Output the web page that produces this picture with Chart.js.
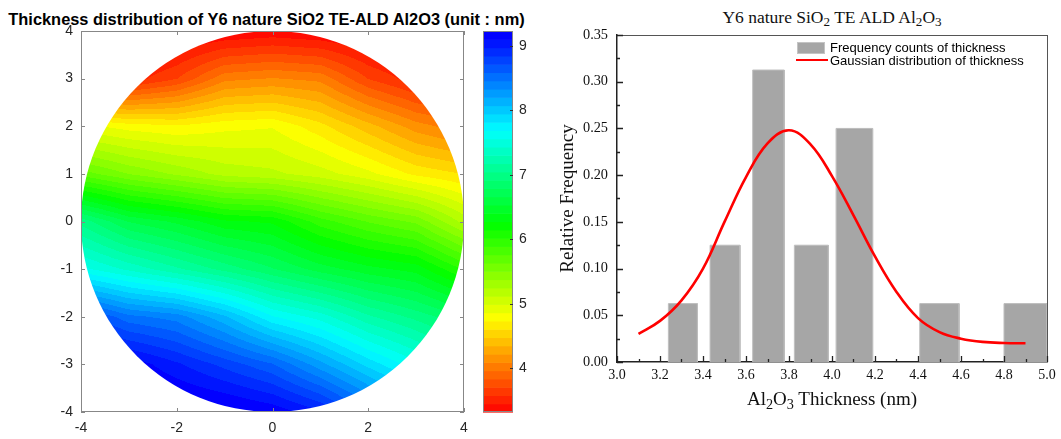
<!DOCTYPE html>
<html lang="en">
<head>
<meta charset="UTF-8" />
<title>Y6 nature SiO2 TE-ALD Al2O3 thickness</title>
<script src="https://cdn.jsdelivr.net/npm/chart.js"></script>
<style>
  body { margin: 0; background: #fff; width: 1061px; height: 439px; overflow: hidden; position: relative; }
  .box { position: absolute; }
  .txt { position: absolute; white-space: nowrap; }
  sub { font-size: 0.75em; vertical-align: -0.25em; line-height: 0; }
</style>
</head>
<body>
<div class="txt" style="left:0;width:533px;text-align:center;top:11px;font:bold 16.4px/1 'Liberation Sans',Arial,sans-serif;color:#000;">Thickness distribution of Y6 nature SiO2 TE-ALD Al2O3 (unit : nm)</div>
<div class="box" style="left:0;top:0;width:545px;height:439px;"><canvas id="mapChart"></canvas></div>
<div class="box" style="left:470px;top:0;width:80px;height:439px;"><canvas id="barChart"></canvas></div>

<div class="txt" style="left:617px;width:430px;text-align:center;top:9px;font:17.5px/1 'Liberation Serif','Times New Roman',serif;color:#111;">Y6 nature SiO<sub>2</sub> TE ALD Al<sub>2</sub>O<sub>3</sub></div>
<div class="box" style="left:545px;top:0;width:516px;height:439px;"><canvas id="histChart"></canvas></div>
<div class="txt" style="left:617px;width:430px;text-align:center;top:389px;font:19px/1 'Liberation Serif','Times New Roman',serif;color:#111;">Al<sub>2</sub>O<sub>3</sub> Thickness (nm)</div>

<div class="box" style="left:797px;top:42px;width:28px;height:12px;background:#a6a6a6;border:1px solid #c4c4c4;box-sizing:border-box;"></div>
<div class="txt" style="left:830px;top:41px;font:13px/1 'Liberation Sans',Arial,sans-serif;color:#000;">Frequency counts of thickness</div>
<div class="box" style="left:796px;top:59px;width:32px;height:2px;background:#ff0000;"></div>
<div class="txt" style="left:830px;top:54px;font:13px/1 'Liberation Sans',Arial,sans-serif;color:#000;">Gaussian distribution of thickness</div>

<script>
// ---- wafer map: thickness (nm) read on a 1 mm grid, rows y = 4 ... -4, cols x = -4 ... 4
const gridX = [-4, -3, -2, -1, 0, 1, 2, 3, 4];
const gridY = [4, 3, 2, 1, 0, -1, -2, -3, -4];
const thicknessGrid = [
  [3.20, 3.20, 3.25, 3.30, 3.35, 3.30, 3.25, 3.20, 3.20],
  [3.60, 3.50, 3.70, 4.05, 4.10, 4.05, 3.70, 3.50, 3.40],
  [4.90, 4.80, 4.75, 4.82, 4.85, 4.65, 4.40, 4.15, 4.00],
  [5.70, 5.50, 5.35, 5.20, 5.15, 5.05, 4.90, 4.70, 4.60],
  [7.00, 6.65, 6.50, 6.30, 6.25, 5.95, 5.75, 5.60, 5.20],
  [7.60, 7.40, 7.20, 7.00, 6.80, 6.60, 6.45, 6.35, 6.00],
  [8.80, 8.50, 8.40, 8.10, 7.70, 7.50, 7.20, 7.00, 6.80],
  [9.30, 9.20, 9.00, 8.80, 8.60, 8.25, 7.90, 7.60, 7.20],
  [9.40, 9.40, 9.35, 9.30, 9.20, 9.00, 8.60, 8.20, 8.00]
];
const waferRadius = 4;
const mapTicksX = [-4, -2, 0, 2, 4];
const mapTicksY = [-4, -3, -2, -1, 0, 1, 2, 3, 4];

// colour bar
const cbMin = 3.32, cbMax = 9.23, cbBands = 46;
const cbTicks = [4, 5, 6, 7, 8, 9];

// ---- histogram
const binStart = [3.239, 3.433, 3.631, 3.825, 4.019, 4.408, 4.800];
const binEnd   = [3.374, 3.572, 3.778, 3.983, 4.189, 4.591, 5.000];
const relFreq  = [0.0625, 0.125, 0.3125, 0.125, 0.25, 0.0625, 0.0625];

const gaussX = [3.1, 3.2, 3.3, 3.4, 3.5, 3.6, 3.7, 3.8, 3.9, 4.0, 4.1, 4.2, 4.3, 4.4, 4.5, 4.6, 4.7, 4.8, 4.9];
const gaussY = [0.030, 0.044, 0.066, 0.100, 0.150, 0.198, 0.234, 0.248, 0.233, 0.199, 0.157, 0.113, 0.075, 0.047, 0.032, 0.025, 0.0215, 0.0203, 0.020];

const SANS = "'Liberation Sans', Arial, sans-serif";
const SERIF = "'Liberation Serif', 'Times New Roman', serif";

function hueRGB(hdeg) {
  const h = hdeg / 60, f = 1 - Math.abs(h % 2 - 1);
  let c;
  if (h < 1) c = [1, f, 0];
  else if (h < 2) c = [f, 1, 0];
  else if (h < 3) c = [0, 1, f];
  else if (h < 4) c = [0, f, 1];
  else c = [f, 0, 1];
  return c.map(v => Math.round(v * 255));
}
function bandIndex(v) {
  const k = Math.floor((v - cbMin) / (cbMax - cbMin) * cbBands);
  return Math.min(Math.max(k, 0), cbBands - 1);
}
function bandColor(k) {
  return hueRGB((k + 0.5) / cbBands * 243);
}

function thicknessAt(vx, vy) {
  const fx = Math.min(Math.max((vx - gridX[0]) / (gridX[1] - gridX[0]), 0), gridX.length - 1.0001);
  const fy = Math.min(Math.max((vy - gridY[0]) / (gridY[1] - gridY[0]), 0), gridY.length - 1.0001);
  const i = Math.floor(fx), j = Math.floor(fy), tx = fx - i, ty = fy - j;
  const g = thicknessGrid;
  return (g[j][i] * (1 - tx) + g[j][i + 1] * tx) * (1 - ty) + (g[j + 1][i] * (1 - tx) + g[j + 1][i + 1] * tx) * ty;
}

const waferPlugin = {
  id: 'wafer',
  beforeDatasetsDraw(chart) {
    const { ctx, chartArea: a, scales: { x, y } } = chart;
    const w = Math.round(a.right - a.left), h = Math.round(a.bottom - a.top);
    const off = document.createElement('canvas');
    off.width = w; off.height = h;
    const octx = off.getContext('2d');
    const img = octx.createImageData(w, h);
    for (let j = 0; j < h; j++) {
      const vy = y.getValueForPixel(a.top + j + 0.5);
      for (let i = 0; i < w; i++) {
        const vx = x.getValueForPixel(a.left + i + 0.5);
        if (vx * vx + vy * vy > 17.5) continue;
        const [r, g, b] = bandColor(bandIndex(thicknessAt(vx, vy)));
        const p = (j * w + i) * 4;
        img.data[p] = r; img.data[p + 1] = g; img.data[p + 2] = b; img.data[p + 3] = 255;
      }
    }
    octx.putImageData(img, 0, 0);
    const cx = x.getPixelForValue(0), cy = y.getPixelForValue(0);
    const rx = x.getPixelForValue(waferRadius) - cx, ry = cy - y.getPixelForValue(waferRadius);
    ctx.save();
    ctx.beginPath();
    ctx.ellipse(cx, cy, rx, ry, 0, 0, Math.PI * 2);
    ctx.clip();
    ctx.drawImage(off, a.left, a.top);
    ctx.restore();
  },
  afterDraw(chart) {
    const { ctx, chartArea: a, scales: { x, y } } = chart;
    ctx.save();
    ctx.strokeStyle = '#878787';
    ctx.lineWidth = 1;
    ctx.strokeRect(a.left + 0.5, a.top + 0.5, a.right - a.left - 1, a.bottom - a.top - 1);
    ctx.beginPath();
    mapTicksX.forEach(v => {
      const px = Math.round(x.getPixelForValue(v)) + 0.5;
      ctx.moveTo(px, a.bottom); ctx.lineTo(px, a.bottom - 4);
      ctx.moveTo(px, a.top); ctx.lineTo(px, a.top + 4);
    });
    mapTicksY.forEach(v => {
      const py = Math.round(y.getPixelForValue(v)) + 0.5;
      ctx.moveTo(a.left, py); ctx.lineTo(a.left + 4, py);
      ctx.moveTo(a.right, py); ctx.lineTo(a.right - 4, py);
    });
    ctx.stroke();
    ctx.restore();
  }
};

new Chart(document.getElementById('mapChart'), {
  type: 'scatter',
  data: { datasets: [] },
  options: {
    responsive: true,
    maintainAspectRatio: false,
    animation: false,
    layout: { padding: { left: 0, right: 81, top: 31, bottom: 0 } },
    plugins: { legend: { display: false }, tooltip: { enabled: false } },
    scales: {
      x: {
        type: 'linear', min: -4, max: 4,
        grid: { display: false, drawTicks: false },
        border: { display: false },
        ticks: { stepSize: 2, padding: 8, color: '#262626', font: { family: SANS, size: 14 } },
        afterFit: s => { s.height = 27; }
      },
      y: {
        type: 'linear', min: -4, max: 4,
        grid: { display: false, drawTicks: false },
        border: { display: false },
        ticks: { stepSize: 1, padding: 8, color: '#262626', font: { family: SANS, size: 14 } },
        afterFit: s => { s.width = 81; }
      }
    }
  },
  plugins: [waferPlugin]
});

const colorbarPlugin = {
  id: 'colorbar',
  beforeDatasetsDraw(chart) {
    const { ctx, chartArea: a, scales: { y } } = chart;
    ctx.save();
    for (let k = 0; k < cbBands; k++) {
      const v0 = cbMin + k * (cbMax - cbMin) / cbBands;
      const v1 = cbMin + (k + 1) * (cbMax - cbMin) / cbBands;
      const p0 = y.getPixelForValue(v0), p1 = y.getPixelForValue(v1);
      const [r, g, b] = bandColor(k);
      ctx.fillStyle = `rgb(${r},${g},${b})`;
      ctx.fillRect(a.left, p1, a.right - a.left, p0 - p1 + 0.6);
    }
    ctx.strokeStyle = '#878787';
    ctx.lineWidth = 1;
    ctx.strokeRect(a.left + 0.5, a.top + 0.5, a.right - a.left - 1, a.bottom - a.top - 1);
    ctx.strokeStyle = '#333';
    ctx.beginPath();
    cbTicks.forEach(v => {
      const py = Math.round(y.getPixelForValue(v)) + 0.5;
      ctx.moveTo(a.right, py); ctx.lineTo(a.right - 3, py);
    });
    ctx.stroke();
    ctx.restore();
  }
};

new Chart(document.getElementById('barChart'), {
  type: 'scatter',
  data: { datasets: [] },
  options: {
    responsive: true,
    maintainAspectRatio: false,
    animation: false,
    layout: { padding: { left: 13, right: 0, top: 31, bottom: 27 } },
    plugins: { legend: { display: false }, tooltip: { enabled: false } },
    scales: {
      x: { display: false, min: 0, max: 1 },
      y: {
        type: 'linear', position: 'right', min: cbMin, max: cbMax,
        grid: { display: false, drawTicks: false },
        border: { display: false },
        afterBuildTicks: s => { s.ticks = cbTicks.map(v => ({ value: v })); },
        ticks: { padding: 6, color: '#262626', font: { family: SANS, size: 14 } },
        afterFit: s => { s.width = 37; }
      }
    }
  },
  plugins: [colorbarPlugin]
});

const frameTicksPlugin = {
  id: 'frameTicks',
  afterDraw(chart) {
    const { ctx, chartArea: a, scales: { x, y } } = chart;
    ctx.save();
    ctx.strokeStyle = '#555';
    ctx.lineWidth = 1;
    ctx.beginPath();
    ctx.moveTo(a.left, a.top + 0.5); ctx.lineTo(a.right + 0.5, a.top + 0.5);
    ctx.moveTo(a.right + 0.5, a.top); ctx.lineTo(a.right + 0.5, a.bottom);
    ctx.stroke();
    ctx.strokeStyle = '#222';
    ctx.lineWidth = 1.3;
    ctx.beginPath();
    for (let k = 0; k <= 14; k++) {
      const py = Math.round(y.getPixelForValue(k * 0.025)) + 0.5;
      ctx.moveTo(a.left, py); ctx.lineTo(a.left + (k % 2 ? 3 : 6), py);
    }
    for (let k = 0; k <= 20; k++) {
      const px = Math.round(x.getPixelForValue(3 + k * 0.1)) + 0.5;
      ctx.moveTo(px, a.bottom); ctx.lineTo(px, a.bottom - (k % 2 ? 3 : 6));
    }
    ctx.stroke();
    ctx.restore();
  }
};

const barSets = relFreq.map((f, i) => ({
  label: 'Frequency counts of thickness',
  data: [
    { x: binStart[i], y: 0 }, { x: binStart[i], y: f },
    { x: binEnd[i], y: f }, { x: binEnd[i], y: 0 }
  ],
  showLine: true,
  fill: 'origin',
  backgroundColor: '#a6a6a6',
  borderColor: '#bdbdbd',
  borderWidth: 1,
  pointRadius: 0,
  tension: 0
}));

new Chart(document.getElementById('histChart'), {
  type: 'scatter',
  data: {
    datasets: [{
      label: 'Gaussian distribution of thickness',
      data: gaussX.map((v, i) => ({ x: v, y: gaussY[i] })),
      showLine: true,
      borderColor: '#ff0000',
      borderWidth: 2.6,
      pointRadius: 0,
      tension: 0.4,
      fill: false
    }, ...barSets]
  },
  options: {
    responsive: true,
    maintainAspectRatio: false,
    animation: false,
    layout: { padding: { left: 0, right: 14, top: 35, bottom: 0 } },
    plugins: { legend: { display: false }, tooltip: { enabled: false } },
    scales: {
      x: {
        type: 'linear', min: 3.0, max: 5.0,
        grid: { display: false, drawTicks: false },
        border: { display: true, color: '#222', width: 1.5 },
        ticks: { stepSize: 0.2, padding: 5, color: '#111', font: { family: SERIF, size: 14 },
                 callback: v => Number(v).toFixed(1) },
        afterFit: s => { s.height = 77; }
      },
      y: {
        type: 'linear', min: 0, max: 0.35,
        grid: { display: false, drawTicks: false },
        border: { display: true, color: '#222', width: 1.5 },
        title: { display: true, text: 'Relative Frequency', color: '#111',
                 font: { family: SERIF, size: 19 }, padding: { top: 12, bottom: 0 } },
        ticks: { stepSize: 0.05, padding: 9, color: '#111', font: { family: SERIF, size: 14.3 },
                 callback: v => Number(v).toFixed(2) },
        afterFit: s => { s.width = 72; }
      }
    }
  },
  plugins: [frameTicksPlugin]
});
</script>
</body>
</html>
